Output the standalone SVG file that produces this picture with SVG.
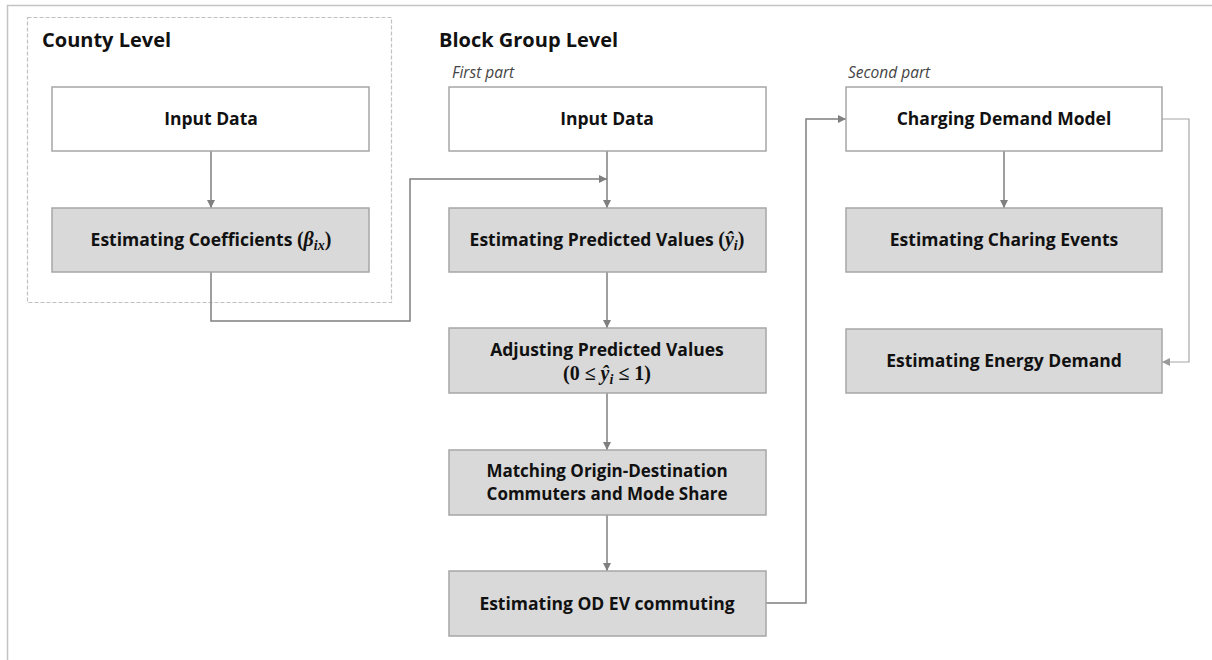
<svg xmlns="http://www.w3.org/2000/svg" width="1212" height="660" viewBox="0 0 1212 660">
<style>
.box{stroke:#a6a6a6;stroke-width:1.5}
.w{fill:#ffffff}
.g{fill:#d9d9d9}
.t{font-family:"Open Sans","Liberation Sans",sans-serif;font-weight:700;font-size:17.5px;fill:#111;text-anchor:middle}
.t2{font-size:17px}
.h{font-family:"Open Sans","Liberation Sans",sans-serif;font-weight:700;font-size:20px;fill:#111}
.s{font-family:"Open Sans","Liberation Sans",sans-serif;font-style:italic;font-size:15.5px;fill:#444}
.m{font-family:"Liberation Serif",serif;font-weight:700;font-size:20px}
.mi{font-family:"Liberation Serif",serif;font-weight:700;font-style:italic;font-size:20px}
.sub{font-family:"Liberation Serif",serif;font-weight:700;font-style:italic;font-size:14px}
.c{fill:none;stroke:#7f7f7f;stroke-width:1.5}
.c2{fill:none;stroke:#a6a6a6;stroke-width:1.2}
</style>
<defs>
<marker id="ah" markerWidth="8" markerHeight="8" refX="8" refY="4" orient="auto" markerUnits="userSpaceOnUse">
<path d="M0,0 L8,4 L0,8 Z" fill="#7f7f7f"/>
</marker>
<marker id="ah2" markerWidth="8" markerHeight="8" refX="8" refY="4" orient="auto" markerUnits="userSpaceOnUse">
<path d="M0,0 L8,4 L0,8 Z" fill="#9a9a9a"/>
</marker>
</defs>
<rect width="1212" height="660" fill="#ffffff"/>
<g id="frame">
<path d="M7.5,660 L7.5,5.5 L1212,5.5" fill="none" stroke="#c4c4c4" stroke-width="1.5"/>
</g>
<g id="county-group">
<rect x="27.5" y="17.5" width="364" height="285" fill="none" stroke="#c0c0c0" stroke-width="1.2" stroke-dasharray="4 2"/>
<text class="h" x="42" y="47">County Level</text>
</g>
<g id="labels">
<text class="h" x="439" y="47">Block Group Level</text>
<text class="s" x="452" y="78">First part</text>
<text class="s" x="848" y="78">Second part</text>
</g>
<g id="connectors">
<line class="c" x1="211" y1="151" x2="211" y2="208" marker-end="url(#ah)"/>
<path class="c" d="M211,272 L211,321 L410,321 L410,179 L607,179" marker-end="url(#ah)"/>
<line class="c" x1="607" y1="151" x2="607" y2="208" marker-end="url(#ah)"/>
<line class="c" x1="607" y1="272" x2="607" y2="328" marker-end="url(#ah)"/>
<line class="c" x1="607" y1="393" x2="607" y2="450" marker-end="url(#ah)"/>
<line class="c" x1="607" y1="515" x2="607" y2="571" marker-end="url(#ah)"/>
<path class="c" d="M766,603 L806,603 L806,119 L846,119" marker-end="url(#ah)"/>
<line class="c" x1="1004" y1="151" x2="1004" y2="208" marker-end="url(#ah)"/>
<path class="c2" d="M1162,119 L1189,119 L1189,362 L1162,362" marker-end="url(#ah2)"/>
</g>
<g id="county-input">
<rect class="box w" x="52" y="87" width="317" height="64"/>
<text class="t" x="211" y="125">Input Data</text>
</g>
<g id="county-coeff">
<rect class="box g" x="52" y="208" width="317" height="64"/>
<text class="t" x="211" y="246">Estimating Coefficients <tspan class="m">(</tspan><tspan class="mi">β</tspan><tspan class="sub" dy="4">ix</tspan><tspan class="m" dy="-4">)</tspan></text>
</g>
<g id="bg-input">
<rect class="box w" x="449" y="87" width="317" height="64"/>
<text class="t" x="607" y="125">Input Data</text>
</g>
<g id="bg-predicted">
<rect class="box g" x="449" y="208" width="317" height="64"/>
<text class="t" x="607" y="246">Estimating Predicted Values <tspan class="m">(</tspan><tspan class="mi">ŷ</tspan><tspan class="sub" dy="4">i</tspan><tspan class="m" dy="-4">)</tspan></text>
</g>
<g id="bg-adjusting">
<rect class="box g" x="449" y="328" width="317" height="65"/>
<text class="t" x="607" y="356">Adjusting Predicted Values</text>
<text class="t" x="607" y="380"><tspan class="m">(0 ≤ </tspan><tspan class="mi">ŷ</tspan><tspan class="sub" dy="4">i</tspan><tspan class="m" dy="-4"> ≤ 1)</tspan></text>
</g>
<g id="bg-matching">
<rect class="box g" x="449" y="450" width="317" height="65"/>
<text class="t t2" x="607" y="476.5">Matching Origin-Destination</text>
<text class="t t2" x="607" y="500">Commuters and Mode Share</text>
</g>
<g id="bg-od">
<rect class="box g" x="449" y="571" width="317" height="65"/>
<text class="t" x="607" y="610">Estimating OD EV commuting</text>
</g>
<g id="charging-model">
<rect class="box w" x="846" y="87" width="316" height="64"/>
<text class="t" x="1004" y="125">Charging Demand Model</text>
</g>
<g id="charging-events">
<rect class="box g" x="846" y="208" width="316" height="64"/>
<text class="t" x="1004" y="246">Estimating Charing Events</text>
</g>
<g id="energy-demand">
<rect class="box g" x="846" y="329" width="316" height="64"/>
<text class="t" x="1004" y="367">Estimating Energy Demand</text>
</g>
</svg>
